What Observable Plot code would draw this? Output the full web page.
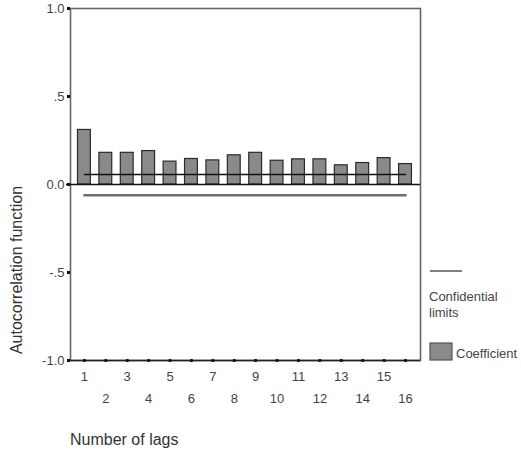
<!DOCTYPE html>
<html>
<head>
<meta charset="utf-8">
<script src="https://cdn.jsdelivr.net/npm/d3@7"></script>
<script src="https://cdn.jsdelivr.net/npm/@observablehq/plot@0.6"></script>
<style>
  html, body { margin: 0; padding: 0; background: #fff; }
  #chart svg { font-family: "Liberation Sans", Arial, sans-serif; }
</style>
</head>
<body>
<div id="chart"></div>
<script>
// Autocorrelation coefficients by lag
const lags = [1, 2, 3, 4, 5, 6, 7, 8, 9, 10, 11, 12, 13, 14, 15, 16];
const coefficients = [0.31, 0.18, 0.18, 0.19, 0.13, 0.145, 0.137, 0.166, 0.18, 0.135, 0.143, 0.143, 0.109, 0.122, 0.15, 0.116];

// Confidence limits
const upperLimit = 0.057;
const lowerLimit = -0.061;

// Y axis ticks and their printed labels
const yTicks = [-1, -0.5, 0, 0.5, 1];
const yTickLabels = ["-1.0", "-.5", "0.0", ".5", "1.0"];

const data = lags.map((lag, i) => ({lag, coef: coefficients[i]}));
const upperLine = [{lag: lags[0], v: upperLimit}, {lag: lags[lags.length - 1], v: upperLimit}];
const lowerLine = [{lag: lags[0], v: lowerLimit}, {lag: lags[lags.length - 1], v: lowerLimit}];
const oddLags = lags.filter(d => d % 2 === 1);
const evenLags = lags.filter(d => d % 2 === 0);

const W = 521, H = 453;
const ML = 70, MR = 101, MT = 8, MB = 93;

const chart = Plot.plot({
  width: W,
  height: H,
  marginLeft: ML,
  marginRight: MR,
  marginTop: MT,
  marginBottom: MB,
  style: {fontSize: "13px", color: "#333", background: "#fff"},
  x: {type: "linear", domain: [0.35, 16.7]},
  y: {domain: [-1, 1]},
  marks: [
    Plot.frame({stroke: "#666", strokeWidth: 1.6}),
    Plot.rectY(data, {
      x1: d => d.lag - 0.3,
      x2: d => d.lag + 0.3,
      y: "coef",
      fill: "#8a8a8a",
      stroke: "#2a2a2a",
      strokeWidth: 1.2
    }),
    Plot.line(upperLine, {x: "lag", y: "v", stroke: "#111", strokeWidth: 1.4}),
    Plot.line(lowerLine, {x: "lag", y: "v", stroke: "#6e6e6e", strokeWidth: 2.4}),
    Plot.ruleY([0], {stroke: "#111", strokeWidth: 1.5, insetLeft: -4}),
    Plot.ruleY([-1], {stroke: "#222", strokeWidth: 1.4}),
    // tick markers along the bottom edge
    Plot.dot(lags, {x: d => d, y: () => -1, symbol: "square", r: 1.6, fill: "#111", stroke: null}),
    Plot.axisY({
      ticks: yTicks,
      tickFormat: d => yTickLabels[yTicks.indexOf(d)],
      tickSize: 3,
      tickPadding: 3,
      strokeWidth: 3,
      stroke: "#111",
      fill: "#444",
      fontSize: 13,
      label: null
    }),
    Plot.axisX({
      ticks: oddLags,
      tickFormat: d => String(d),
      tickSize: 0,
      tickPadding: 11,
      fill: "#444",
      fontSize: 13,
      label: null
    }),
    Plot.axisX({
      ticks: evenLags,
      tickFormat: d => String(d),
      tickSize: 0,
      tickPadding: 33,
      fill: "#444",
      fontSize: 13,
      label: null
    })
  ]
});

const svg = d3.select(chart);

// Axis titles
svg.append("text")
  .attr("transform", "translate(22,270) rotate(-90)")
  .attr("text-anchor", "middle")
  .attr("font-size", 16)
  .attr("fill", "#333")
  .text("Autocorrelation function");
svg.append("text")
  .attr("x", 70).attr("y", 445)
  .attr("text-anchor", "start")
  .attr("font-size", 16)
  .attr("fill", "#333")
  .text("Number of lags");

// Legend in the right margin
const lg = svg.append("g").attr("font-size", 13).attr("fill", "#444").attr("text-anchor", "start");
lg.append("line").attr("x1", 430).attr("x2", 462).attr("y1", 271).attr("y2", 271)
  .attr("stroke", "#555").attr("stroke-width", 1.5);
lg.append("text").attr("x", 429).attr("y", 301).text("Confidential");
lg.append("text").attr("x", 429).attr("y", 317).text("limits");
lg.append("rect").attr("x", 430).attr("y", 343).attr("width", 22).attr("height", 17)
  .attr("fill", "#8a8a8a").attr("stroke", "#555").attr("stroke-width", 1.2);
lg.append("text").attr("x", 456).attr("y", 358).text("Coefficient");

document.getElementById("chart").appendChild(chart);
</script>
</body>
</html>
